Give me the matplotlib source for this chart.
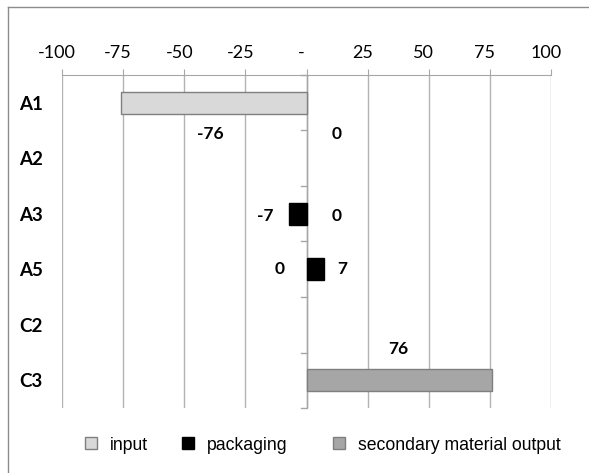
import numpy as np
import matplotlib
matplotlib.use("Agg")
import matplotlib.pyplot as plt
import matplotlib.transforms as mtransforms
from matplotlib.lines import Line2D
from matplotlib.patches import Patch

# data
categories = ["A1", "A2", "A3", "A5", "C2", "C3"]
input_vals = [-76, 0, 0, 0, 0, 0]
packaging_vals = [0, 0, -7, 7, 0, 0]
secondary_vals = [0, 0, 0, 0, 0, 76]
label_cats = ["A1", "A1", "A3", "A3", "A5", "A5", "C3"]
label_vals = [-76, 0, -7, 0, 0, 7, 76]
tick_vals = [-100, -75, -50, -25, 0, 25, 50, 75, 100]
tick_text = ["-100", "-75", "-50", "-25", "-", "25", "50", "75", "100"]
series_names = ["input", "packaging", "secondary material output"]

W, H = 589, 473
fig = plt.figure(figsize=(W / 100, H / 100), dpi=100)
ax = fig.add_axes([62 / W, 1 - 408 / H, (551 - 62) / W, (408 - 75) / H])

y = np.arange(len(categories))
bh = 0.40
colors = ["#d9d9d9", "black", "#a6a6a6"]
edges = ["#7f7f7f", "black", "#7f7f7f"]

for vals, fc, ec in zip([input_vals, packaging_vals, secondary_vals], colors, edges):
    v = np.array(vals, dtype=float)
    m = v != 0
    ax.barh(y[m], v[m], height=bh, color=fc, edgecolor=ec, lw=1, zorder=3)

ax.set_xlim(-100, 100)
ax.set_ylim(len(categories) - 0.5, -0.5)
ax.xaxis.tick_top()
ax.set_xticks(tick_vals)
ax.set_xticklabels(tick_text, family="Lato", fontsize=13)
ax.tick_params(axis="x", length=4.3, color="#a6a6a6", pad=6)
shift = mtransforms.ScaledTranslation(-5 / 100, 0, fig.dpi_scale_trans)
for lab in ax.get_xticklabels():
    lab.set_transform(lab.get_transform() + shift)
ax.set_yticks(y)
ax.set_yticklabels(categories, family="Lato", fontweight="bold", fontsize=13.5)
ax.tick_params(axis="y", length=0, pad=13.7)
ax.grid(axis="x", color="#b3b3b3", lw=1, zorder=0)
for s in ["left", "right", "bottom"]:
    ax.spines[s].set_visible(False)
ax.spines["top"].set_color("#a6a6a6")

# zero axis with small ticks at category boundaries
ax.axvline(0, color="#a6a6a6", lw=1, zorder=2)
for b in np.arange(len(categories) + 1) - 0.5:
    ax.plot([-2.4, 0], [b, b], color="#a6a6a6", lw=1, zorder=2, clip_on=False)

# data labels
offsets = [(-3, -31), (30, -31), (-24, -2), (30, -2), (-27, 0), (19, 0), (-1, 31)]
for c, v, off in zip(label_cats, label_vals, offsets):
    i = categories.index(c)
    xa = v / 2 if abs(v) > 50 else v
    ax.annotate(str(v), xy=(xa, y[i]), xytext=off, textcoords="offset pixels",
                ha="center", va="center", family="Lato", fontweight="bold", fontsize=12.5)

# legend entries placed individually (uneven spacing as in the original)
legend_x = [85, 182, 333]
for name, fc, ec, lx in zip(series_names, colors, edges, legend_x):
    h = Patch(facecolor=fc, edgecolor=ec, label=name)
    fig.legend(handles=[h], loc="center left", bbox_to_anchor=(lx / W, 1 - 445 / H),
               frameon=False, prop={"family": "Liberation Sans", "size": 12.7},
               handlelength=0.68, handleheight=0.68, handletextpad=0.75,
               borderpad=0, borderaxespad=0)

# outer frame (left and top only visible)
fig.add_artist(Line2D([8 / W, 8 / W], [0, 1 - 7 / H], color="#8c8c8c", lw=1))
fig.add_artist(Line2D([8 / W, 1], [1 - 7 / H, 1 - 7 / H], color="#8c8c8c", lw=1))

fig.savefig("out.png", dpi=100)
